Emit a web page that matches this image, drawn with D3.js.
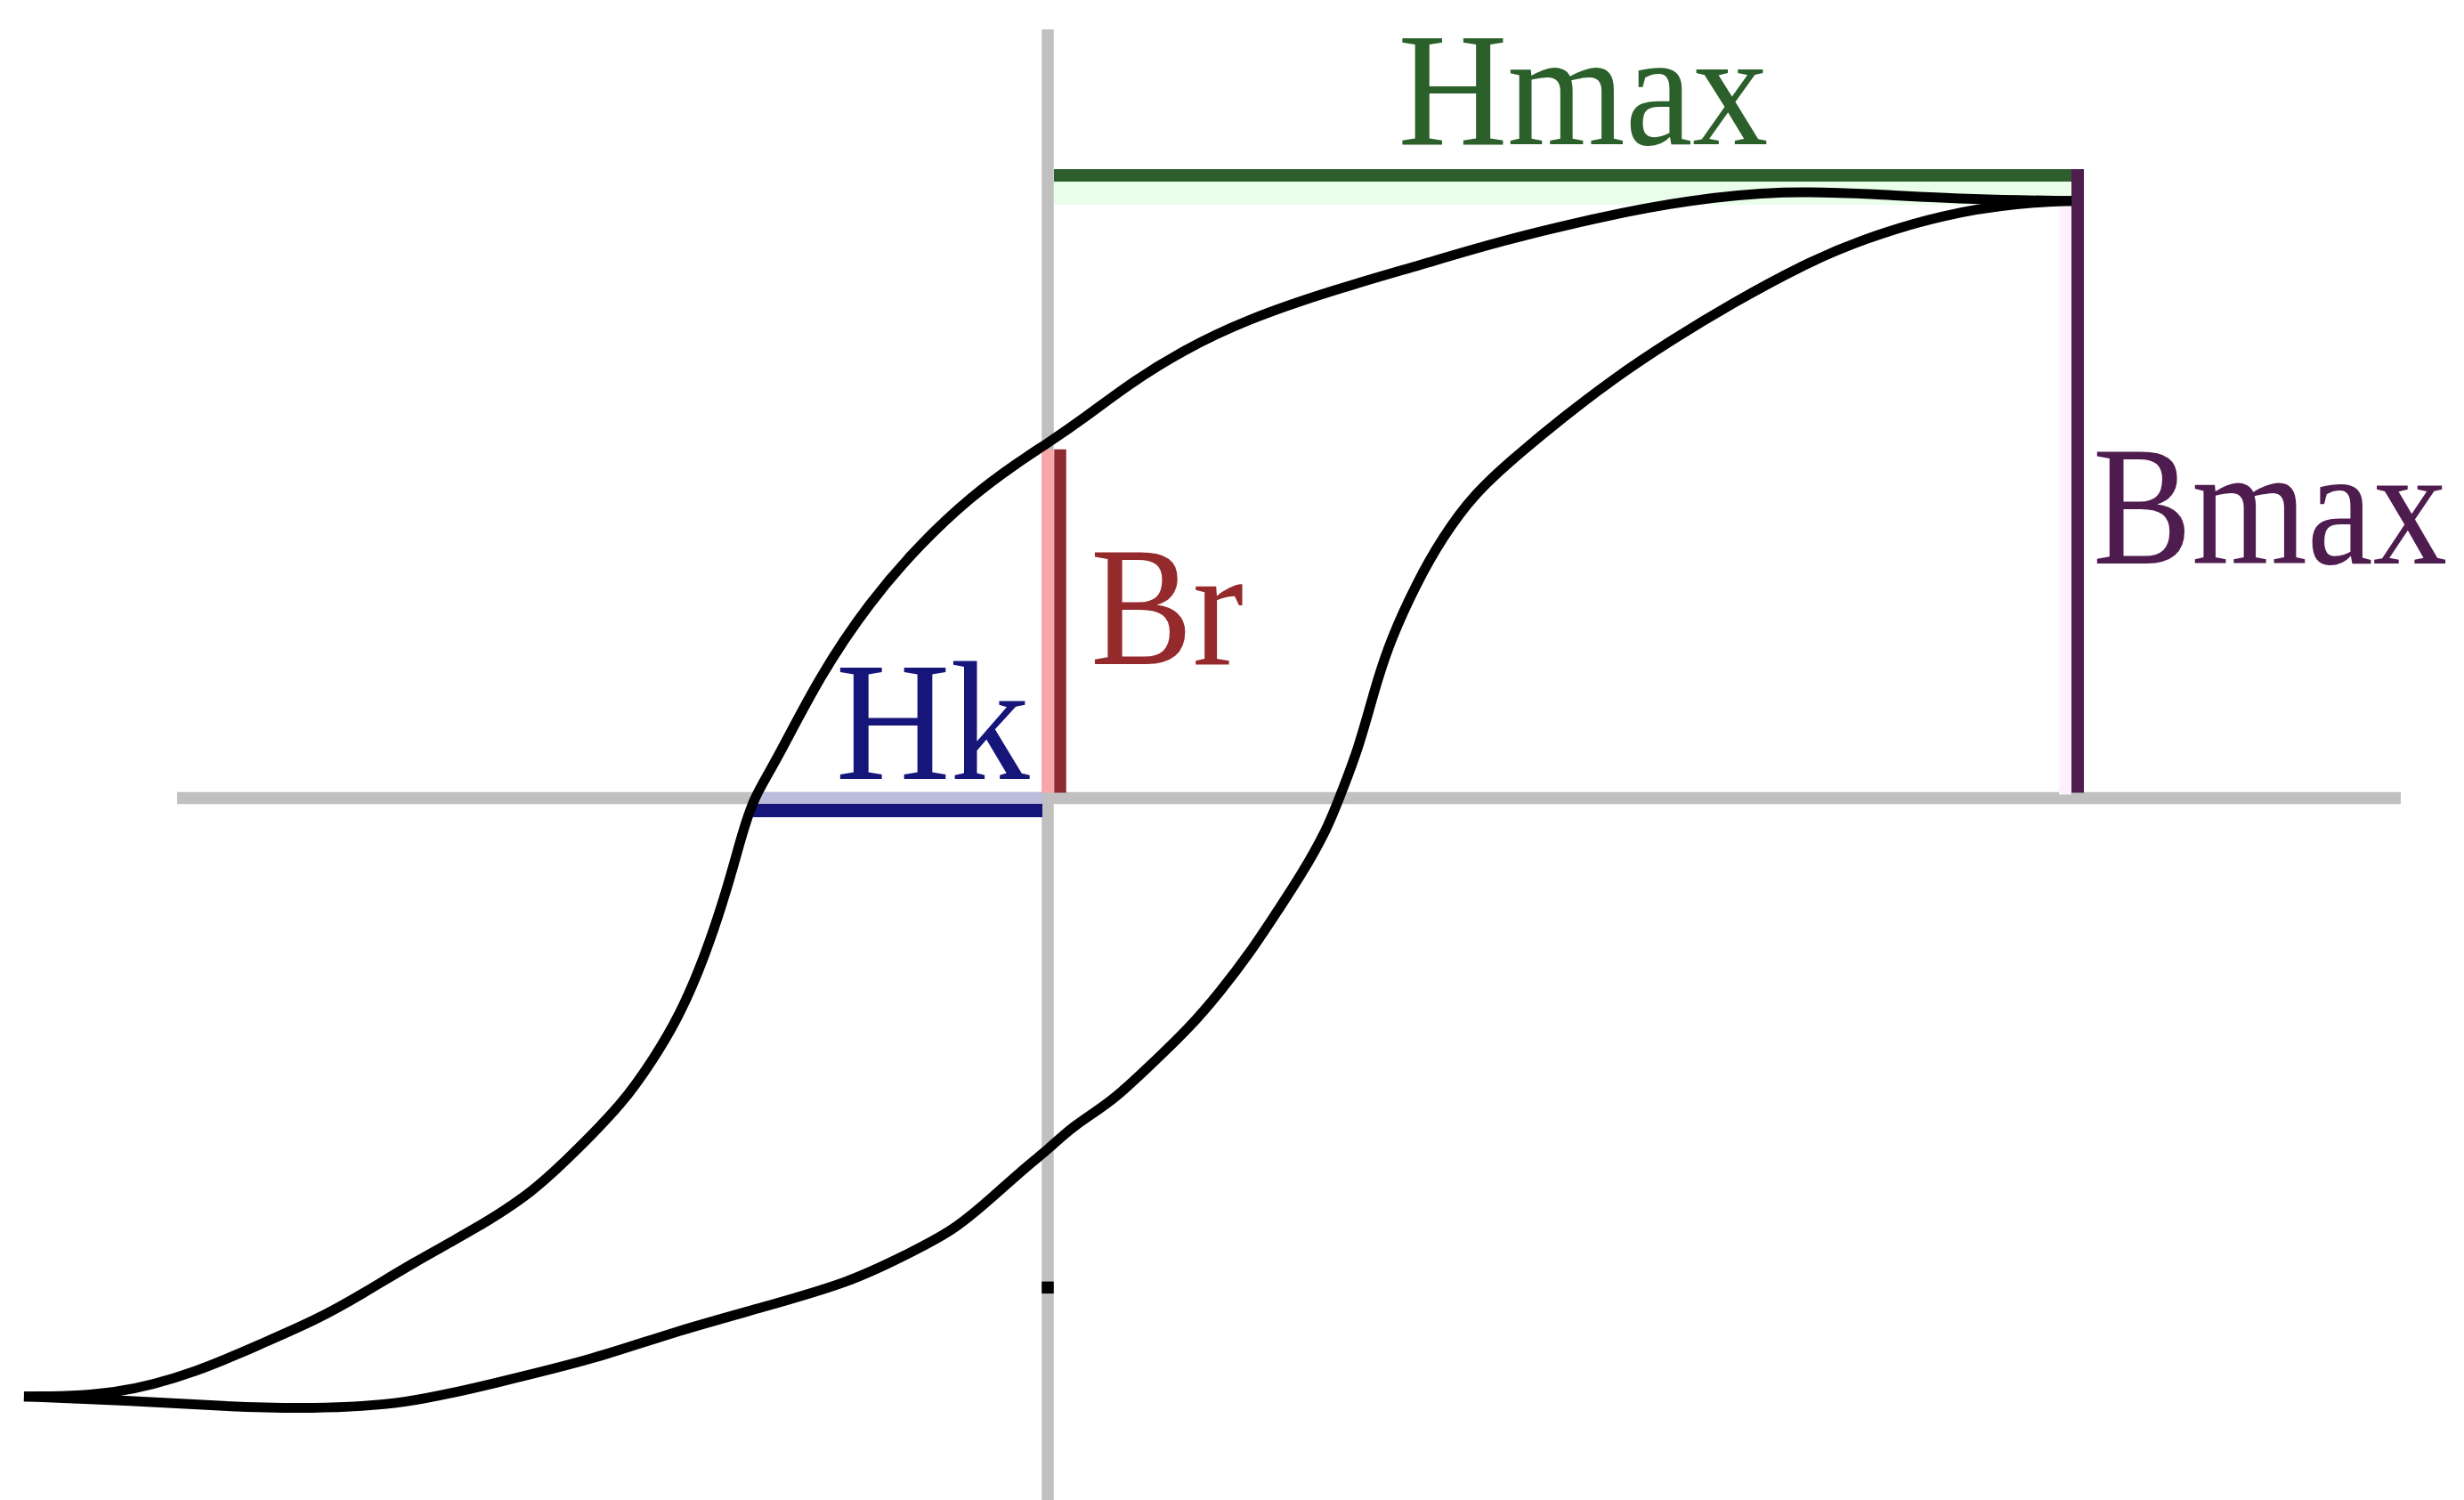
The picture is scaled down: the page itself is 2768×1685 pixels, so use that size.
<!DOCTYPE html>
<html>
<head>
<meta charset="utf-8">
<title>Hysteresis loop</title>
<script src="https://cdn.jsdelivr.net/npm/d3@7"></script>
<style>
  html, body { margin: 0; padding: 0; background: #ffffff; }
  svg { display: block; }
</style>
</head>
<body>
<div id="chart"></div>
<script>
// Magnetic hysteresis (B–H) loop. H in % of Hmax, B in % of Bmax.

// Descending branch: from negative saturation tip, over the upper side, to positive tip
const upperBranch = [
  [-99.4, -96.1], [-90.5, -96.0], [-82.3, -92.0], [-76.6, -87.8], [-71.0, -83.8],
  [-66.6, -79.7], [-61.5, -74.5], [-55.9, -69.5], [-50.0, -63.4], [-45.6, -56.3],
  [-41.3, -49.1], [-38.3, -42.0], [-35.7, -34.8], [-33.3, -25.5], [-31.2, -15.0],
  [-29.8, -6.5], [-28.6, 0.0], [-26.5, 5.5], [-22.2, 19.5], [-17.3, 31.5],
  [-12.4, 40.8], [-7.4, 48.5], [-3.0, 53.8], [0.0, 57.0], [3.6, 61.1],
  [8.0, 66.6], [13.0, 71.8], [19.2, 76.8], [27.7, 81.6], [36.4, 85.7],
  [43.8, 89.4], [53.8, 93.4], [62.0, 96.0], [71.6, 97.6], [80.0, 97.0],
  [90.1, 96.1], [99.4, 95.9]
];

// Ascending branch: from negative tip, along the lower side, to positive tip
const lowerBranch = [
  [-99.4, -96.1], [-88.8, -96.8], [-80.0, -97.7], [-71.5, -98.1], [-62.4, -97.4],
  [-53.8, -94.0], [-43.8, -90.0], [-36.5, -85.8], [-27.7, -81.8], [-19.1, -77.7],
  [-14.2, -73.7], [-9.1, -69.5], [-5.2, -63.8], [-1.8, -58.8], [0.0, -56.5],
  [2.4, -52.7], [6.2, -48.8], [9.9, -43.0], [13.7, -37.0], [16.7, -31.2],
  [19.7, -24.7], [22.2, -18.4], [24.6, -12.4], [27.1, -5.1], [28.3, 0.0],
  [30.2, 8.0], [31.8, 17.9], [33.3, 25.5], [35.8, 34.5], [38.3, 41.8],
  [41.4, 48.9], [45.6, 55.1], [50.0, 61.1], [54.9, 67.3], [60.4, 73.4],
  [66.6, 79.6], [73.4, 85.7], [79.0, 89.7], [87.0, 93.8], [94.5, 95.6],
  [99.4, 95.9]
];

// Characteristic quantities
const Hmax = 100;
const Bmax = 100;
const Br = 57.0;     // remanence (B at H = 0 on the descending branch)
const Hk = -28.6;    // coercive field (H at B = 0 on the descending branch)
const axisMarks = [-78.6];

// Labels
const labels = {
  Hmax: "Hmax",
  Bmax: "Bmax",
  Br: "Br",
  Hk: "Hk"
};

const W = 2768, H = 1685;

const svg = d3.select("#chart").append("svg")
  .attr("width", W)
  .attr("height", H)
  .attr("viewBox", [0, 0, W, H]);

svg.append("rect").attr("width", W).attr("height", H).attr("fill", "#ffffff");

const x = d3.scaleLinear().domain([-100, 100]).range([20, 2334]);
const y = d3.scaleLinear().domain([-100, 100]).range([1596, 197]);

const axisColor = "#c0c0c0";
const lw = 13.5;

// Axes through the origin
svg.append("line")
  .attr("x1", x(0)).attr("x2", x(0))
  .attr("y1", 33).attr("y2", H)
  .attr("stroke", axisColor).attr("stroke-width", lw);

svg.append("line")
  .attr("x1", 199).attr("x2", 2697)
  .attr("y1", y(0)).attr("y2", y(0))
  .attr("stroke", axisColor).attr("stroke-width", lw);

// Small mark on the B axis
svg.selectAll("rect.axis-mark")
  .data(axisMarks)
  .join("rect")
  .attr("class", "axis-mark")
  .attr("x", x(0) - lw / 2)
  .attr("y", d => y(d) - lw / 2)
  .attr("width", lw)
  .attr("height", lw)
  .attr("fill", "#000");

// Hmax: from the B axis to the saturation field, at the Bmax level
svg.append("rect")
  .attr("x", x(0) + 7).attr("y", y(Bmax) + 7)
  .attr("width", x(Hmax) - x(0)).attr("height", 26)
  .attr("fill", "#eaffea");
svg.append("line")
  .attr("x1", x(0) + 7).attr("x2", x(Hmax) + 7)
  .attr("y1", y(Bmax)).attr("y2", y(Bmax))
  .attr("stroke", "#2e5e2e").attr("stroke-width", 14);

// Bmax: vertical line at Hmax, from the H axis up to Bmax
svg.append("rect")
  .attr("x", x(Hmax) - 21).attr("y", y(Bmax) + 22)
  .attr("width", 14).attr("height", y(0) - y(Bmax) - 26)
  .attr("fill", "#fff0ff");
svg.append("line")
  .attr("x1", x(Hmax)).attr("x2", x(Hmax))
  .attr("y1", y(Bmax) - 7).attr("y2", y(0) - 6)
  .attr("stroke", "#4e1e4e").attr("stroke-width", 14);

// Br: segment beside the B axis, from 0 up to the remanence
svg.append("line")
  .attr("x1", x(0)).attr("x2", x(0))
  .attr("y1", y(Br) + 7).attr("y2", y(0) - 6)
  .attr("stroke", "#f9a6a8").attr("stroke-width", lw);
svg.append("line")
  .attr("x1", x(0) + 14).attr("x2", x(0) + 14)
  .attr("y1", y(Br) + 7).attr("y2", y(0) - 6)
  .attr("stroke", "#8c2c30").attr("stroke-width", lw);

// Hk: segment under the H axis, from the coercive field to 0
svg.append("line")
  .attr("x1", x(Hk)).attr("x2", x(0) - 6)
  .attr("y1", y(0)).attr("y2", y(0))
  .attr("stroke", "#bcbcdc").attr("stroke-width", lw);
svg.append("line")
  .attr("x1", x(Hk) - 6).attr("x2", x(0) - 6)
  .attr("y1", y(0) + 14).attr("y2", y(0) + 14)
  .attr("stroke", "#15157a").attr("stroke-width", 15);

// The loop
const line = d3.line()
  .x(d => x(d[0]))
  .y(d => y(d[1]))
  .curve(d3.curveBasis);

svg.selectAll("path.branch")
  .data([upperBranch, lowerBranch])
  .join("path")
  .attr("class", "branch")
  .attr("d", line)
  .attr("fill", "none")
  .attr("stroke", "#000")
  .attr("stroke-width", 11)
  .attr("stroke-linejoin", "round")
  .attr("stroke-linecap", "butt");

// Labels: a narrow serif face, obtained by squeezing the glyphs horizontally
const font = "'Liberation Serif', 'DejaVu Serif', serif";

function label(text, xPos, yPos, width, size, color) {
  const g = svg.append("g");
  const t = g.append("text")
    .attr("x", 0)
    .attr("y", 0)
    .attr("font-family", font)
    .attr("font-size", size)
    .attr("fill", color)
    .text(text);
  const natural = t.node().getComputedTextLength();
  const sx = natural > 0 ? width / natural : 1;
  g.attr("transform", `translate(${xPos},${yPos}) scale(${sx},1)`);
}

label(labels.Hmax, x(Hmax * 0.34), y(Bmax) - 35, 416, 182, "#2b602b");
label(labels.Bmax, x(Hmax) + 17, y(Bmax * 0.377), 398, 190, "#4e1c4e");
label(labels.Br, x(0) + 48, y(Br * 0.377), 172, 190, "#952a2c");
label(labels.Hk, x(Hk * 0.72), y(0) - 22, 218, 190, "#15157a");
</script>
</body>
</html>
